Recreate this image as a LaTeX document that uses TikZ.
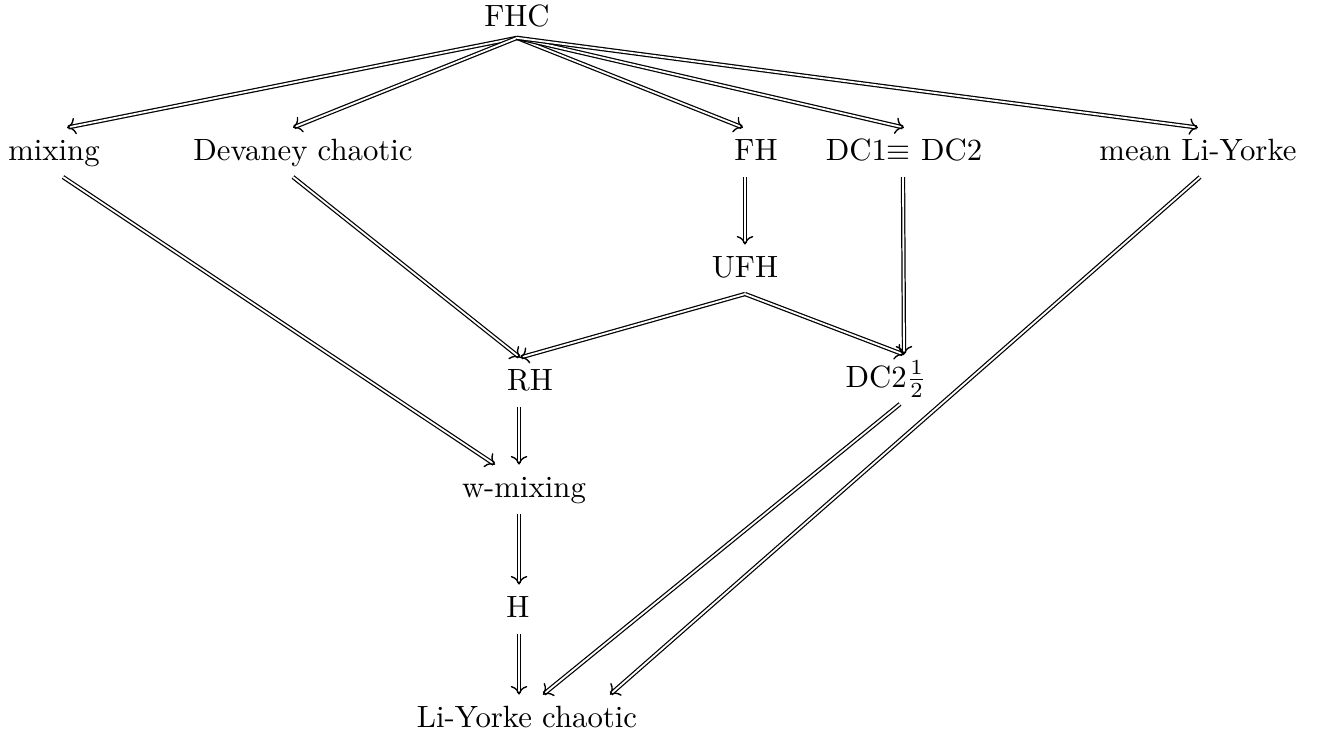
\documentclass[tikz,border=0pt]{standalone}
\usepackage{amssymb}
\usetikzlibrary{arrows.meta}
\begin{document}
\begin{tikzpicture}[x=0.325pt,y=-0.325pt]
\tikzstyle{every node}+=[anchor=base,text height=7pt,text depth=2pt]
\tikzstyle{impl}=[double,-{To[line width=0.45pt,length=2.8pt,width=5.4pt]}]
\useasboundingbox (0,0) rectangle (1321,735);

\node (fhc) at (517,27) [text depth=0pt] {FHC};

\node (mix) at (54,160) {mixing};
\node (dev) at (303,160) {Devaney chaotic};
\node (fh) at (756,160) {FH};
\node (dc) at (904,160) {DC1$\equiv$ DC2};
\node (mly) at (1198,160) {mean Li-Yorke};

\node (ufh) at (745,277) {UFH};
\node (rh) at (530,390) {RH};
\node (half) at (886,387) {DC2$\frac{1}{2}$};
\node (wmix) at (524,497) {w-mixing};
\node (h) at (518,617) {H};
\node (ly) at (527,727) {Li-Yorke chaotic};

\draw [impl] (fhc.south) -- ([shift={(13,0)}]mix.north);
\draw [impl] (fhc.south) -- ([shift={(-10,0)}]dev.north);
\draw [impl] (fhc.south) -- ([shift={(-13,0)}]fh.north);
\draw [impl] (fhc.south) -- (dc.north);
\draw [impl] (fhc.south) -- (mly.north);

\draw [impl] ([shift={(9,0)}]mix.south) -- ([shift={(-29,0)}]wmix.north);
\draw [impl] ([shift={(-10,0)}]dev.south) -- ([shift={(-10,0)}]rh.north);
\draw [impl] ([shift={(-11,0)}]fh.south) -- (ufh.north);
\draw [impl] (ufh.south) -- ([shift={(-10,0)}]rh.north);
\draw [impl] (ufh.south) -- ([shift={(18,0)}]half.north);
\draw [impl] ([shift={(-1,0)}]dc.south) -- ([shift={(18,0)}]half.north);

\draw [impl] ([shift={(-11,0)}]rh.south) -- ([shift={(-5,0)}]wmix.north);
\draw [impl] ([shift={(-5,0)}]wmix.south) -- ([shift={(1,0)}]h.north);
\draw [impl] ([shift={(1,0)}]h.south) -- ([shift={(-8,0)}]ly.north);
\draw [impl] ([shift={(14,0)}]half.south) -- ([shift={(16,0)}]ly.north);
\draw [impl] ([shift={(2,0)}]mly.south) -- ([shift={(83,0)}]ly.north);
\end{tikzpicture}
\end{document}
